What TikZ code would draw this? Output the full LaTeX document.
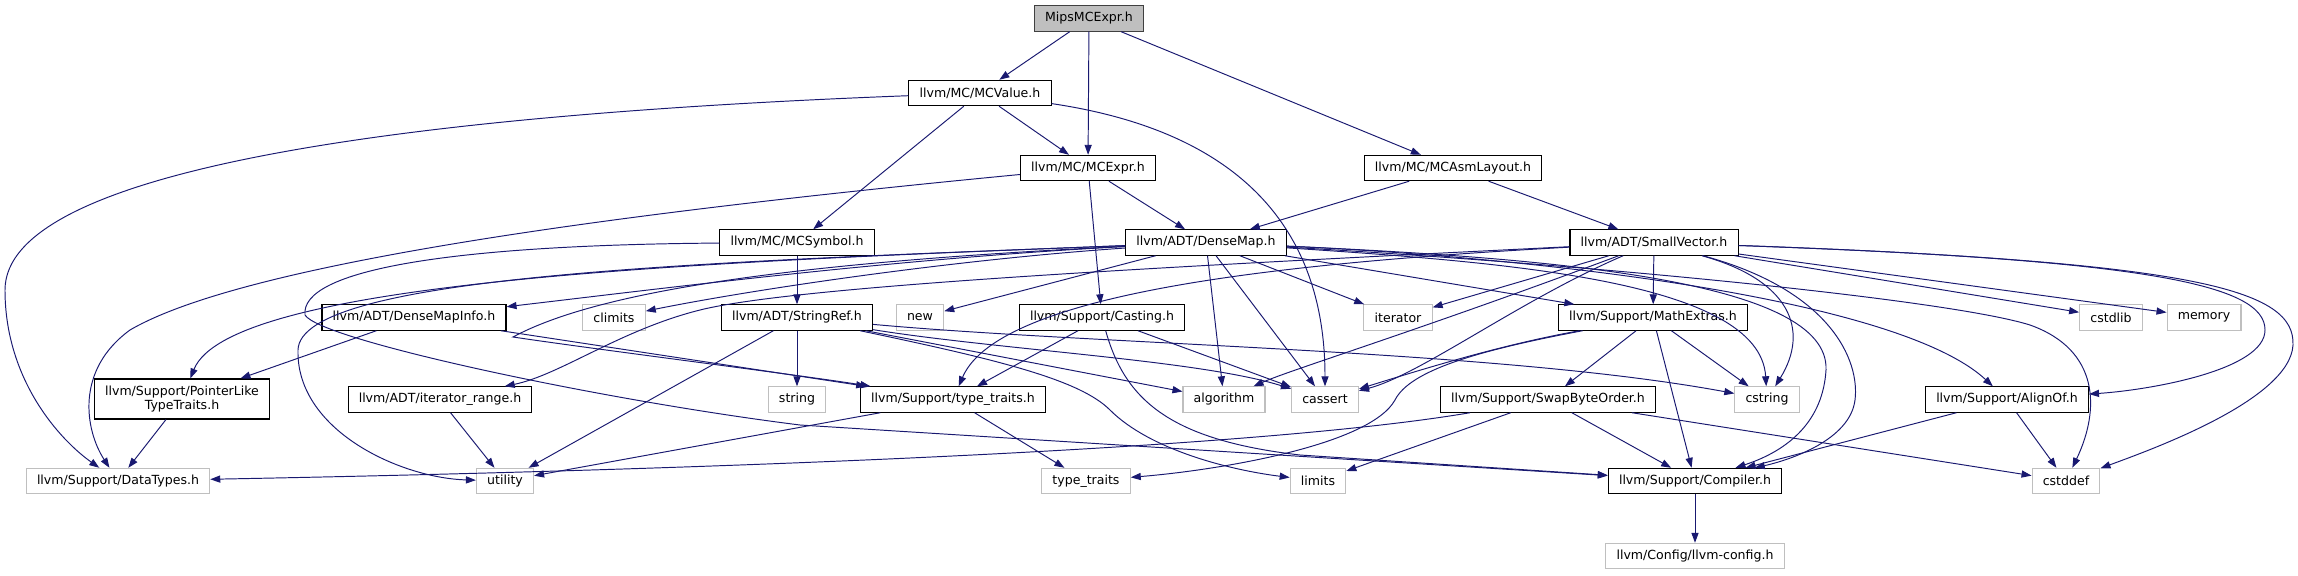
\documentclass[tikz,border=0pt]{standalone}
\usepackage{fontspec}
\setmainfont{DejaVu Sans}
\usetikzlibrary{arrows.meta}
\definecolor{edgeblue}{HTML}{191970}
\definecolor{extgray}{HTML}{BFBFBF}
\begin{document}
\begin{tikzpicture}[
    x=0.28mm, y=-0.28mm,
    every node/.style={font=\fontsize{10}{11.5}\selectfont, inner xsep=3mm, inner ysep=0pt, minimum height=7.1mm},
    hdr/.style={draw=black, line width=0.3mm},
    sys/.style={draw=extgray, line width=0.3mm},
    rootfile/.style={draw=black!75, fill=extgray, line width=0.3mm},
    dep/.style={draw=edgeblue, line width=0.27mm, -{Triangle[length=2.8mm,width=2mm]}}
]
\useasboundingbox (0,0) rectangle (2298,575);
% files of the include graph
\node[rootfile] (root) at (1089,18.5) {MipsMCExpr.h};
\node[hdr] (mcvalue) at (980,93) {llvm/MC/MCValue.h};
\node[hdr] (mcexpr) at (1088,168) {llvm/MC/MCExpr.h};
\node[hdr] (asmlayout) at (1453,168) {llvm/MC/MCAsmLayout.h};
\node[hdr] (mcsymbol) at (797,242.5) {llvm/MC/MCSymbol.h};
\node[hdr] (densemap) at (1206,242.5) {llvm/ADT/DenseMap.h};
\node[hdr] (smallvec) at (1654,242.5) {llvm/ADT/SmallVector.h};
\node[hdr] (densemapinfo) at (414,317.5) {llvm/ADT/DenseMapInfo.h};
\node[sys] (climits) at (614,317.5) {climits};
\node[hdr] (stringref) at (797,317.5) {llvm/ADT/StringRef.h};
\node[sys] (stdnew) at (920,317.5) {new};
\node[hdr] (casting) at (1102,317.5) {llvm/Support/Casting.h};
\node[sys] (iterator) at (1398,317.5) {iterator};
\node[hdr] (mathextras) at (1653,317.5) {llvm/Support/MathExtras.h};
\node[sys] (cstdlib) at (2111,317.5) {cstdlib};
\node[sys] (memory) at (2204,317.5) {memory};
\node[hdr, align=center, minimum height=11.2mm] (ptrlike) at (182,399) {llvm/Support/PointerLike\\TypeTraits.h};
\node[hdr] (itrange) at (440,399.5) {llvm/ADT/iterator\_range.h};
\node[sys] (string) at (797,399.5) {string};
\node[hdr] (typetraitsh) at (953,399.5) {llvm/Support/type\_traits.h};
\node[sys] (algorithm) at (1224,399.5) {algorithm};
\node[sys] (cassert) at (1325,399.5) {cassert};
\node[hdr] (swapbyte) at (1548,399.5) {llvm/Support/SwapByteOrder.h};
\node[sys] (cstring) at (1767,399.5) {cstring};
\node[hdr] (alignof) at (2007,399.5) {llvm/Support/AlignOf.h};
\node[sys] (datatypes) at (118,481) {llvm/Support/DataTypes.h};
\node[sys] (utility) at (505,481) {utility};
\node[sys] (typetraits) at (1086,481) {type\_traits};
\node[sys] (limits) at (1318,481) {limits};
\node[hdr] (compiler) at (1695,481) {llvm/Support/Compiler.h};
\node[sys] (cstddef) at (2066,481) {cstddef};
\node[sys] (llvmconfig) at (1695,556) {llvm/Config/llvm-config.h};

\draw[dep] (root) -- (mcvalue);
\draw[dep] (root) -- (mcexpr);
\draw[dep] (root) -- (asmlayout);
\draw[dep] (mcvalue) -- (mcexpr);
\draw[dep] (mcvalue) -- (mcsymbol);
\draw[dep] (mcvalue) .. controls (400,115) and (5,170) .. (5,290) .. controls (5,380) and (60,440) .. (datatypes);
\draw[dep] (mcvalue) .. controls (1230,130) and (1325,220) .. (cassert);
\draw[dep] (mcexpr) .. controls (650,210) and (250,260) .. (130,330) .. controls (75,370) and (85,430) .. (datatypes);
\draw[dep] (mcexpr) -- (densemap);
\draw[dep] (mcexpr) -- (casting);
\draw[dep] (asmlayout) -- (densemap);
\draw[dep] (asmlayout) -- (smallvec);
\draw[dep] (mcsymbol) -- (stringref);
\draw[dep] (mcsymbol) .. controls (450,245) and (300,270) .. (305,315) .. controls (320,340) and (600,400) .. (800,425) -- (compiler);

\draw[dep] (densemap) .. controls (900,258) and (650,290) .. (densemapinfo);
\draw[dep] (densemap) .. controls (950,260) and (750,290) .. (climits);
\draw[dep] (densemap) -- (stdnew);
\draw[dep] (densemap) .. controls (700,262) and (230,280) .. (ptrlike);
\draw[dep] (densemap) .. controls (700,262) and (300,275) .. (298,350) .. controls (296,430) and (400,478) .. (utility);
\draw[dep] (densemap) .. controls (800,262) and (600,290) .. (513,337) .. controls (600,350) and (800,375) .. (typetraitsh);
\draw[dep] (densemap) -- (algorithm);
\draw[dep] (densemap) -- (cassert);
\draw[dep] (densemap) -- (iterator);
\draw[dep] (densemap) -- (mathextras);
\draw[dep] (densemap) .. controls (1500,262) and (1760,280) .. (cstring);
\draw[dep] (densemap) .. controls (1550,258) and (1830,280) .. (1826,370) .. controls (1823,420) and (1790,450) .. (compiler);
\draw[dep] (densemap) .. controls (1550,258) and (1900,300) .. (alignof);
\draw[dep] (densemap) .. controls (1600,265) and (1950,300) .. (2030,325) .. controls (2100,350) and (2100,410) .. (cstddef);

\draw[dep] (smallvec) -- (mathextras);
\draw[dep] (smallvec) -- (iterator);
\draw[dep] (smallvec) -- (cstdlib);
\draw[dep] (smallvec) -- (memory);
\draw[dep] (smallvec) .. controls (1300,262) and (1000,290) .. (typetraitsh);
\draw[dep] (smallvec) .. controls (1200,265) and (800,285) .. (700,310) .. controls (620,330) and (560,375) .. (itrange);
\draw[dep] (smallvec) .. controls (1420,330) and (1290,370) .. (algorithm);
\draw[dep] (smallvec) .. controls (1520,300) and (1420,375) .. (cassert);
\draw[dep] (smallvec) .. controls (1790,280) and (1810,330) .. (cstring);
\draw[dep] (smallvec) .. controls (1830,290) and (1860,360) .. (1855,400) .. controls (1850,440) and (1790,460) .. (compiler);
\draw[dep] (smallvec) .. controls (2150,260) and (2265,285) .. (2265,330) .. controls (2265,370) and (2150,390) .. (alignof);
\draw[dep] (smallvec) .. controls (2200,262) and (2295,290) .. (2293,345) .. controls (2290,400) and (2150,450) .. (cstddef);

\draw[dep] (mathextras) -- (swapbyte);
\draw[dep] (mathextras) -- (compiler);
\draw[dep] (mathextras) -- (cstring);
\draw[dep] (mathextras) .. controls (1500,345) and (1420,370) .. (cassert);
\draw[dep] (mathextras) .. controls (1480,350) and (1410,370) .. (1395,400) .. controls (1370,445) and (1220,470) .. (typetraits);
\draw[dep] (swapbyte) .. controls (1250,450) and (700,470) .. (datatypes);
\draw[dep] (swapbyte) -- (limits);
\draw[dep] (swapbyte) -- (compiler);
\draw[dep] (swapbyte) -- (cstddef);
\draw[dep] (casting) -- (typetraitsh);
\draw[dep] (casting) -- (cassert);
\draw[dep] (casting) .. controls (1125,400) and (1170,440) .. (1300,455) -- (compiler);
\draw[dep] (stringref) -- (string);
\draw[dep] (stringref) -- (utility);
\draw[dep] (stringref) -- (algorithm);
\draw[dep] (stringref) .. controls (1000,350) and (1200,360) .. (cassert);
\draw[dep] (stringref) .. controls (1000,360) and (1080,380) .. (1110,410) .. controls (1150,450) and (1230,470) .. (limits);
\draw[dep] (stringref) .. controls (1100,345) and (1500,350) .. (cstring);
\draw[dep] (densemapinfo) -- (ptrlike);
\draw[dep] (densemapinfo) -- (typetraitsh);
\draw[dep] (ptrlike) -- (datatypes);
\draw[dep] (itrange) -- (utility);
\draw[dep] (typetraitsh) -- (utility);
\draw[dep] (typetraitsh) -- (typetraits);
\draw[dep] (alignof) -- (compiler);
\draw[dep] (alignof) -- (cstddef);
\draw[dep] (compiler) -- (llvmconfig);
\end{tikzpicture}
\end{document}
